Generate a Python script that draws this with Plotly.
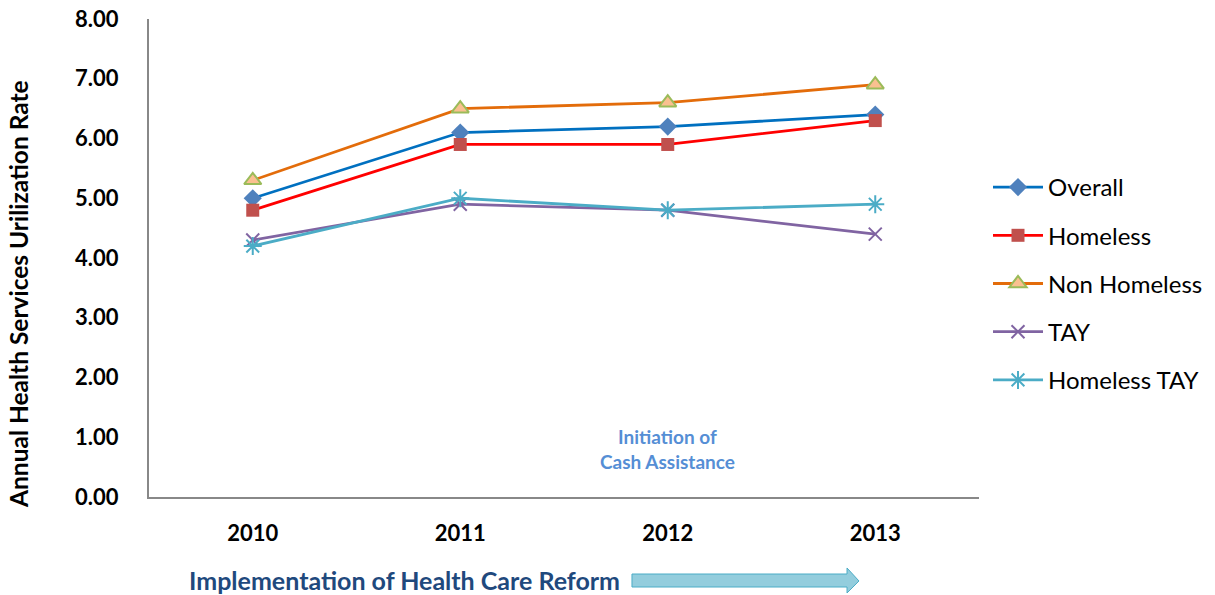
import plotly.graph_objects as go

# Data
years = ["2010", "2011", "2012", "2013"]
overall = [5.0, 6.1, 6.2, 6.4]
homeless = [4.8, 5.9, 5.9, 6.3]
non_homeless = [5.3, 6.5, 6.6, 6.9]
tay = [4.3, 4.9, 4.8, 4.4]
homeless_tay = [4.2, 5.0, 4.8, 4.9]
y_ticks = [0, 1, 2, 3, 4, 5, 6, 7, 8]
y_tick_labels = ["%.2f" % v for v in y_ticks]

FONT = "Lato, Calibri, 'Open Sans', sans-serif"

series = [
    ("Overall", overall, "#0070C0",
     dict(symbol="diamond", size=14, color="#4F81BD", line=dict(width=0))),
    ("Homeless", homeless, "#FF0000",
     dict(symbol="square", size=13, color="#C0504D", line=dict(width=0))),
    ("Non Homeless", non_homeless, "#E36C0A",
     dict(symbol="triangle-up", size=15, color="#FAC090",
          line=dict(width=2, color="#9BBB59"))),
    ("TAY", tay, "#8064A2",
     dict(symbol="x-thin", size=13, color="#8064A2",
          line=dict(width=2, color="#8064A2"))),
    ("Homeless TAY", homeless_tay, "#4BACC6",
     dict(symbol="asterisk", size=15, color="#4BACC6",
          line=dict(width=2, color="#4BACC6"))),
]

fig = go.Figure()
for name, vals, lc, mk in series:
    fig.add_trace(go.Scatter(
        x=years, y=vals, name=name, mode="lines+markers",
        line=dict(color=lc, width=2.8), marker=mk, legendgroup=name,
    ))

# Plot-area pixel geometry used to place the free annotations
L, R, T, B = 149, 979, 19, 497
W, H = R - L, B - T


def px(x):
    return (x - L) / W


def py(y):
    return (B - y) / H


arrow = [(632, 574), (847, 574), (847, 568), (859, 581), (847, 593),
         (847, 587), (632, 587)]
path = "M " + " L ".join("%.4f,%.4f" % (px(x), py(y)) for x, y in arrow) + " Z"

fig.update_layout(
    width=1215, height=595,
    margin=dict(l=L, r=1215 - R, t=T, b=595 - B, autoexpand=False),
    paper_bgcolor="white", plot_bgcolor="white",
    font=dict(family=FONT, color="#000000"),
    showlegend=True,
    legend=dict(
        x=px(988), xanchor="left", y=py(165), yanchor="top",
        font=dict(size=24, family=FONT, color="#000000"),
        tracegroupgap=14, itemwidth=50, bgcolor="rgba(0,0,0,0)",
    ),
    xaxis=dict(
        type="category", range=[-0.5, 3.5], automargin=False,
        showline=True, linecolor="#888888", linewidth=2,
        showgrid=False, zeroline=False, ticks="",
        tickfont=dict(size=22, family=FONT, color="#000000", weight="bold"),
        ticklabelstandoff=16,
    ),
    yaxis=dict(
        range=[0, 8], tickvals=y_ticks, ticktext=y_tick_labels, automargin=False,
        showline=True, linecolor="#888888", linewidth=2,
        showgrid=False, zeroline=False, ticks="",
        tickfont=dict(size=22, family=FONT, color="#000000", weight="bold"),
        ticklabelstandoff=24,
    ),
    shapes=[dict(
        type="path", xref="paper", yref="paper", path=path,
        fillcolor="#93CDDD", line=dict(color="#4BACC6", width=1),
    )],
    annotations=[
        dict(text="Annual Health Services Urilization Rate", xref="paper", yref="paper",
             x=px(18), y=py(294), xanchor="center", yanchor="middle",
             textangle=-90, showarrow=False,
             font=dict(size=24.5, family=FONT, color="#000000", weight="bold")),
        dict(text="Initiation of<br>Cash Assistance", xref="paper", yref="paper",
             x=px(667), y=py(449), xanchor="center", yanchor="middle",
             showarrow=False, align="center",
             font=dict(size=19, family=FONT, color="#558ED5", weight="bold")),
        dict(text="Implementation of Health Care Reform", xref="paper", yref="paper",
             x=px(187), xanchor="left", y=py(580), yanchor="middle", showarrow=False,
             font=dict(size=25, family=FONT, color="#1F497D", weight="bold")),
    ],
)

fig.write_html("out.html")
